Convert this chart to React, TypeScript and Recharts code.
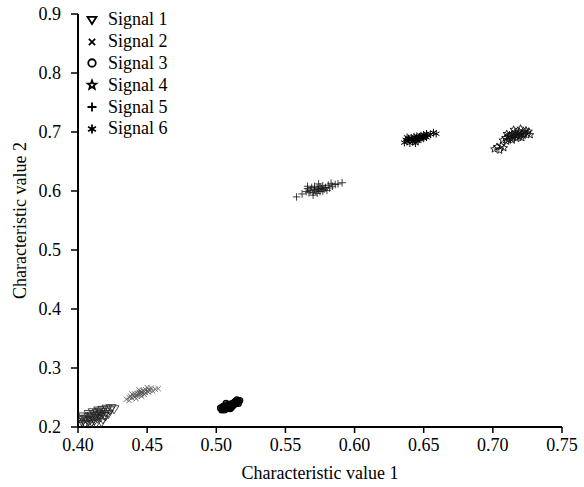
import { Legend, Scatter, ScatterChart, XAxis, YAxis } from "recharts";

const FONT = "Liberation Serif, Times New Roman, Times, serif";

const xTicks = [0.4, 0.45, 0.5, 0.55, 0.6, 0.65, 0.7, 0.75];
const yTicks = [0.2, 0.3, 0.4, 0.5, 0.6, 0.7, 0.8, 0.9];

// signal 1: triangles near the origin
const signal1: [number, number][] = [
  [0.401, 0.205], [0.403, 0.208], [0.404, 0.212], [0.405, 0.206], [0.406, 0.214],
  [0.407, 0.21], [0.408, 0.217], [0.409, 0.212], [0.41, 0.219], [0.41, 0.208],
  [0.411, 0.215], [0.412, 0.221], [0.412, 0.211], [0.413, 0.218], [0.414, 0.224],
  [0.414, 0.214], [0.415, 0.22], [0.416, 0.226], [0.416, 0.216], [0.417, 0.222],
  [0.418, 0.229], [0.419, 0.219], [0.42, 0.225], [0.421, 0.231], [0.422, 0.222],
  [0.423, 0.228], [0.424, 0.232], [0.406, 0.203], [0.409, 0.205], [0.402, 0.214],
  [0.413, 0.206], [0.418, 0.213], [0.408, 0.222], [0.415, 0.228], [0.411, 0.225],
  [0.42, 0.218], [0.404, 0.218], [0.417, 0.208], [0.399, 0.209], [0.426, 0.23],
];

const signal2: [number, number][] = [
  [0.435, 0.247], [0.437, 0.25], [0.438, 0.252], [0.439, 0.249], [0.44, 0.254],
  [0.441, 0.251], [0.441, 0.256], [0.442, 0.253], [0.443, 0.257], [0.443, 0.254],
  [0.444, 0.259], [0.444, 0.255], [0.445, 0.257], [0.445, 0.261], [0.446, 0.256],
  [0.446, 0.259], [0.447, 0.262], [0.447, 0.258], [0.448, 0.26], [0.448, 0.255],
  [0.449, 0.263], [0.449, 0.258], [0.45, 0.261], [0.451, 0.264], [0.451, 0.259],
  [0.452, 0.262], [0.453, 0.266], [0.454, 0.261], [0.456, 0.264], [0.458, 0.265],
  [0.439, 0.256], [0.442, 0.248], [0.446, 0.252], [0.45, 0.267], [0.444, 0.263],
  [0.437, 0.245],
];

const signal3: [number, number][] = [
  [0.504, 0.229], [0.504, 0.233], [0.505, 0.231], [0.505, 0.235], [0.506, 0.229],
  [0.506, 0.233], [0.507, 0.236], [0.507, 0.231], [0.508, 0.234], [0.508, 0.238],
  [0.509, 0.232], [0.509, 0.236], [0.51, 0.235], [0.51, 0.239], [0.511, 0.237],
  [0.511, 0.233], [0.512, 0.24], [0.512, 0.236], [0.513, 0.238], [0.513, 0.242],
  [0.514, 0.24], [0.514, 0.244], [0.515, 0.242], [0.515, 0.246], [0.516, 0.244],
  [0.516, 0.24], [0.517, 0.245], [0.507, 0.24], [0.503, 0.232], [0.51, 0.231],
];

const signal4: [number, number][] = [
  [0.701, 0.671], [0.703, 0.675], [0.705, 0.669], [0.706, 0.677], [0.708, 0.673],
  [0.707, 0.686], [0.709, 0.69], [0.71, 0.684], [0.711, 0.692], [0.711, 0.687],
  [0.712, 0.695], [0.713, 0.689], [0.713, 0.693], [0.714, 0.697], [0.714, 0.686],
  [0.715, 0.691], [0.716, 0.695], [0.716, 0.699], [0.717, 0.689], [0.717, 0.693],
  [0.718, 0.697], [0.719, 0.692], [0.719, 0.701], [0.72, 0.695], [0.721, 0.698],
  [0.721, 0.69], [0.722, 0.694], [0.723, 0.7], [0.723, 0.696], [0.724, 0.703],
  [0.725, 0.698], [0.726, 0.701], [0.727, 0.695], [0.715, 0.704], [0.72, 0.706],
  [0.71, 0.697],
];

const signal5: [number, number][] = [
  [0.558, 0.59], [0.562, 0.595], [0.565, 0.599], [0.566, 0.604], [0.567, 0.597],
  [0.568, 0.601], [0.569, 0.606], [0.57, 0.598], [0.571, 0.603], [0.571, 0.608],
  [0.572, 0.6], [0.573, 0.605], [0.573, 0.596], [0.574, 0.602], [0.575, 0.607],
  [0.575, 0.599], [0.576, 0.604], [0.577, 0.6], [0.577, 0.609], [0.578, 0.603],
  [0.579, 0.606], [0.58, 0.601], [0.581, 0.61], [0.582, 0.605], [0.584, 0.608],
  [0.586, 0.611], [0.588, 0.612], [0.591, 0.614], [0.57, 0.593], [0.574, 0.612],
  [0.583, 0.613], [0.566, 0.608],
];

const signal6: [number, number][] = [
  [0.636, 0.682], [0.637, 0.687], [0.638, 0.684], [0.639, 0.689], [0.64, 0.681],
  [0.64, 0.686], [0.641, 0.69], [0.642, 0.684], [0.642, 0.688], [0.643, 0.692],
  [0.643, 0.685], [0.644, 0.689], [0.645, 0.687], [0.645, 0.693], [0.646, 0.69],
  [0.646, 0.685], [0.647, 0.692], [0.647, 0.688], [0.648, 0.694], [0.648, 0.69],
  [0.649, 0.692], [0.65, 0.689], [0.65, 0.695], [0.651, 0.693], [0.652, 0.697],
  [0.653, 0.694], [0.655, 0.696], [0.657, 0.699], [0.659, 0.697], [0.644, 0.681],
  [0.638, 0.691], [0.652, 0.691],
];

type Kind = "tri" | "cross" | "circle" | "star" | "plus" | "ast";

const series: { name: string; kind: Kind; color: string; width: number; points: [number, number][] }[] = [
  { name: "Signal 1", kind: "tri", color: "#222", width: 0.8, points: signal1 },
  { name: "Signal 2", kind: "cross", color: "#555", width: 0.8, points: signal2 },
  { name: "Signal 3", kind: "circle", color: "#000", width: 1.4, points: signal3 },
  { name: "Signal 4", kind: "star", color: "#111", width: 0.9, points: signal4 },
  { name: "Signal 5", kind: "plus", color: "#111", width: 0.8, points: signal5 },
  { name: "Signal 6", kind: "ast", color: "#000", width: 1, points: signal6 },
];

function Marker({ kind, cx, cy, r, w, color }: { kind: Kind; cx: number; cy: number; r: number; w: number; color: string }) {
  const common = { stroke: color, strokeWidth: w, fill: "none" };
  if (kind === "tri") {
    return <path d={`M${cx - r},${cy - r * 0.7}L${cx + r},${cy - r * 0.7}L${cx},${cy + r * 0.9}Z`} {...common} />;
  }
  if (kind === "cross") {
    const s = r * 0.7;
    return <path d={`M${cx - s},${cy - s}L${cx + s},${cy + s}M${cx - s},${cy + s}L${cx + s},${cy - s}`} {...common} />;
  }
  if (kind === "circle") {
    return <circle cx={cx} cy={cy} r={r * 0.75} {...common} />;
  }
  if (kind === "star") {
    const pts: string[] = [];
    for (let i = 0; i < 10; i++) {
      const rad = i % 2 === 0 ? r : r * 0.42;
      const a = -Math.PI / 2 + (i * Math.PI) / 5;
      pts.push(`${cx + rad * Math.cos(a)},${cy + rad * Math.sin(a)}`);
    }
    return <polygon points={pts.join(" ")} {...common} />;
  }
  if (kind === "plus") {
    return <path d={`M${cx - r},${cy}L${cx + r},${cy}M${cx},${cy - r}L${cx},${cy + r}`} {...common} />;
  }
  const d = r * 0.87;
  const h = r * 0.5;
  return (
    <path
      d={`M${cx},${cy - r}L${cx},${cy + r}M${cx - d},${cy - h}L${cx + d},${cy + h}M${cx - d},${cy + h}L${cx + d},${cy - h}`}
      {...common}
    />
  );
}

function LegendBox() {
  return (
    <div style={{ fontFamily: FONT, fontSize: 18, color: "#000" }}>
      {series.map((s) => (
        <div key={s.name} style={{ display: "flex", alignItems: "center", height: 21.8 }}>
          <svg width={16} height={16}>
            <Marker kind={s.kind} cx={8} cy={8} r={s.kind === "circle" ? 5 : 4.5} w={1.8} color="#000" />
          </svg>
          <span style={{ marginLeft: 8 }}>{s.name}</span>
        </div>
      ))}
    </div>
  );
}

export default function App() {
  const tick = { fill: "#000", fontSize: 18, fontFamily: FONT };
  return (
    <div style={{ position: "absolute", left: 0, top: 0, width: 584, height: 487, background: "#fff", fontFamily: FONT }}>
      <ScatterChart
        width={584}
        height={487}
        margin={{ top: 14, right: 22, bottom: 0, left: 18 }}
        style={{ fontFamily: FONT }}
      >
        <XAxis
          type="number"
          dataKey="x"
          domain={[0.4, 0.75]}
          ticks={xTicks}
          tickFormatter={(v: number) => v.toFixed(2)}
          height={60}
          tick={tick}
          tickSize={6}
          tickMargin={5}
          axisLine={{ stroke: "#000", strokeWidth: 2 }}
          tickLine={{ stroke: "#000", strokeWidth: 1.5 }}
          allowDataOverflow
          label={{ value: "Characteristic value 1", position: "insideBottom", offset: 8, fill: "#000", fontSize: 18, fontFamily: FONT }}
        />
        <YAxis
          type="number"
          dataKey="y"
          domain={[0.2, 0.9]}
          ticks={yTicks}
          tickFormatter={(v: number) => v.toFixed(1)}
          width={60}
          tick={tick}
          tickSize={7}
          tickMargin={10}
          axisLine={{ stroke: "#000", strokeWidth: 2 }}
          tickLine={{ stroke: "#000", strokeWidth: 1.5 }}
          allowDataOverflow
          label={{
            value: "Characteristic value 2",
            angle: -90,
            position: "insideLeft",
            offset: 2,
            textAnchor: "middle",
            fill: "#000",
            fontSize: 18,
            fontFamily: FONT,
          }}
        />
        <Legend
          layout="vertical"
          align="center"
          verticalAlign="middle"
          wrapperStyle={{ left: 84, top: 9, width: 110 }}
          content={() => <LegendBox />}
        />
        {series.map((s) => (
          <Scatter
            key={s.name}
            name={s.name}
            data={s.points.map(([x, y]) => ({ x, y }))}
            isAnimationActive={false}
            shape={(p: any) => (
              <Marker kind={s.kind} cx={p.cx} cy={p.cy} r={s.kind === "tri" ? 5 : 3.8} w={s.width} color={s.color} />
            )}
          />
        ))}
      </ScatterChart>
    </div>
  );
}
